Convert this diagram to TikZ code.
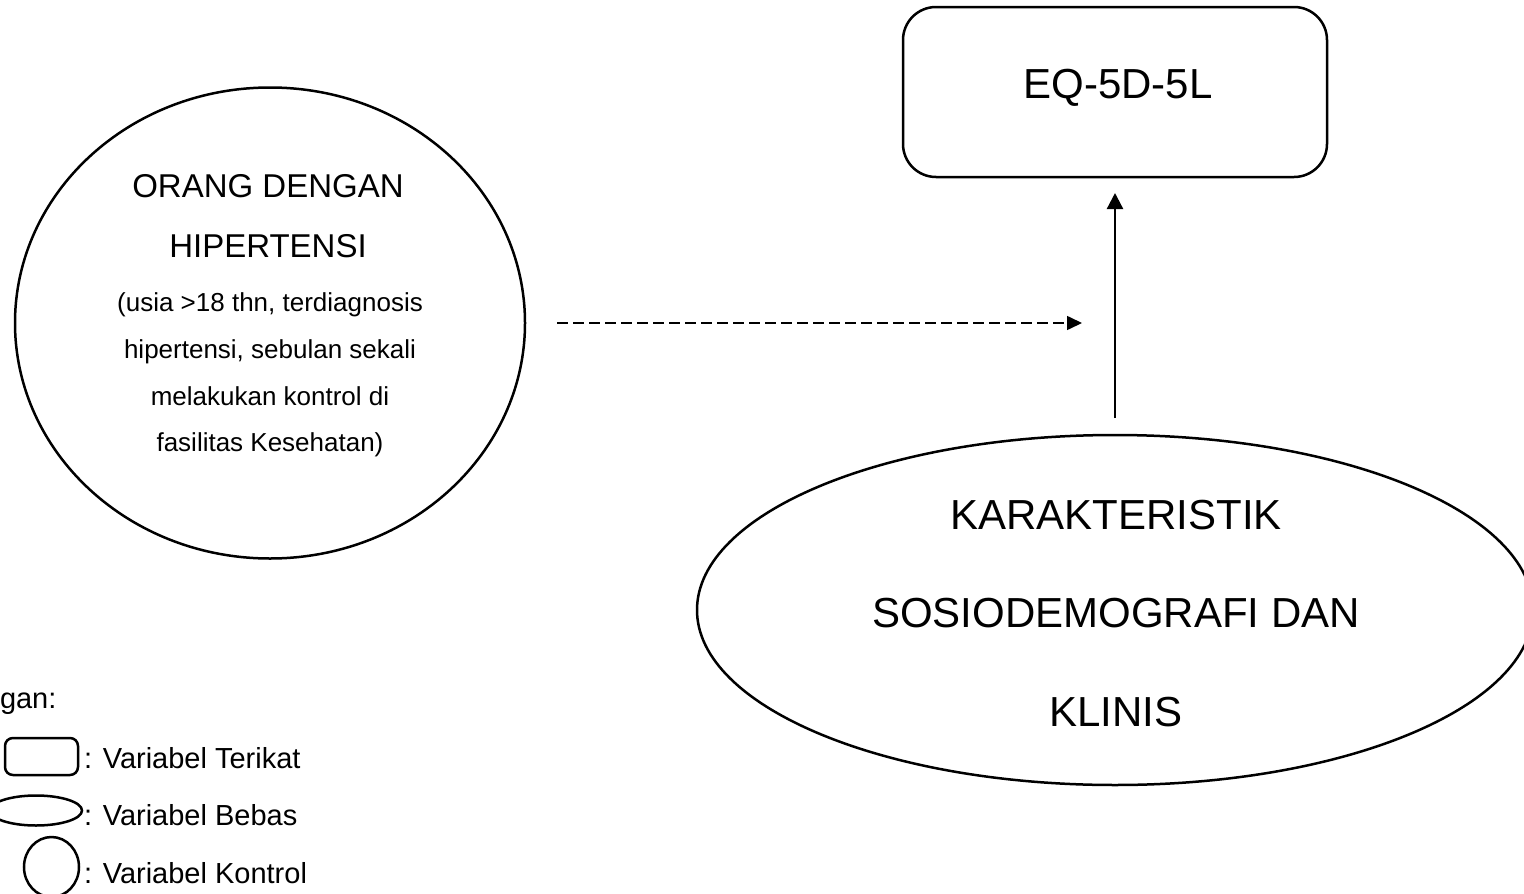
\documentclass[tikz,border=0pt]{standalone}
\usepackage{fontspec}
\setmainfont{Liberation Sans}
\usetikzlibrary{shapes.geometric,arrows.meta,positioning}

\begin{document}
\begin{tikzpicture}[x=1pt,y=-1pt,
  every node/.style={inner sep=0pt, outer sep=0pt},
  terikat/.style={draw, line width=2.5pt, rounded corners=33pt, minimum width=424pt, minimum height=170pt},
  bebas/.style={draw, ellipse, line width=2.5pt, minimum width=836pt, minimum height=350pt},
  kontrol/.style={draw, ellipse, line width=2.5pt, minimum width=510pt, minimum height=471pt},
  bigtext/.style={font=\fontsize{42}{98.5}\selectfont, align=center},
  midtext/.style={font=\fontsize{33}{60}\selectfont, align=center},
  smalltext/.style={font=\fontsize{26}{46.7}\selectfont, align=center},
  legtext/.style={font=\fontsize{29}{35}\selectfont, anchor=base west},
  link/.style={line width=2.3pt, -{Triangle[length=16pt,width=16pt]}},
  dashlink/.style={line width=1.6pt, dash pattern=on 11pt off 5pt, -{Triangle[length=15pt,width=14pt]}}
]
\clip (0,0) rectangle (1524,894);

% dependent variable
\node[terikat] (eq) at (1115,92) {};
\node[bigtext, anchor=base] (eqtext) at (1118,98) {EQ-5D-5L};

% independent variable
\node[bebas] (kar) at (1115,610) {};
\node[bigtext] (kartext) at (1116,613.5) {KARAKTERISTIK\\SOSIODEMOGRAFI DAN\\KLINIS};

% control variable
\node[kontrol] (orang) at (270,323) {};
\node[midtext] (orangtitle) at (268,216) {ORANG DENGAN\\HIPERTENSI};
\node[smalltext] (orangnote) at (270,375) {(usia >18 thn, terdiagnosis\\hipertensi, sebulan sekali\\melakukan kontrol di\\fasilitas Kesehatan)};

% connectors
\coordinate (dashend) at (1082,323);
\draw[link, shorten <=17pt, shorten >=16pt] (kar.north) -- (eq.south);
\draw[dashlink, shorten <=32pt] (orang.east) -- (dashend);

% legend
\node[legtext] (ket) at (0,708) {gan:};
\node[terikat, minimum width=73pt, minimum height=37pt, rounded corners=8pt] (legterikat) at (41.5,756.5) {};
\node[bebas, minimum width=92pt, minimum height=30pt] (legbebas) at (36,810.5) {};
\node[kontrol, minimum width=55pt, minimum height=60pt] (legkontrol) at (51.5,867) {};
\node[legtext] (ltterikat) at (84,768) {: Variabel Terikat};
\node[legtext] (ltbebas) at (84,825) {: Variabel Bebas};
\node[legtext] (ltkontrol) at (84,883) {: Variabel Kontrol};
\end{tikzpicture}
\end{document}
